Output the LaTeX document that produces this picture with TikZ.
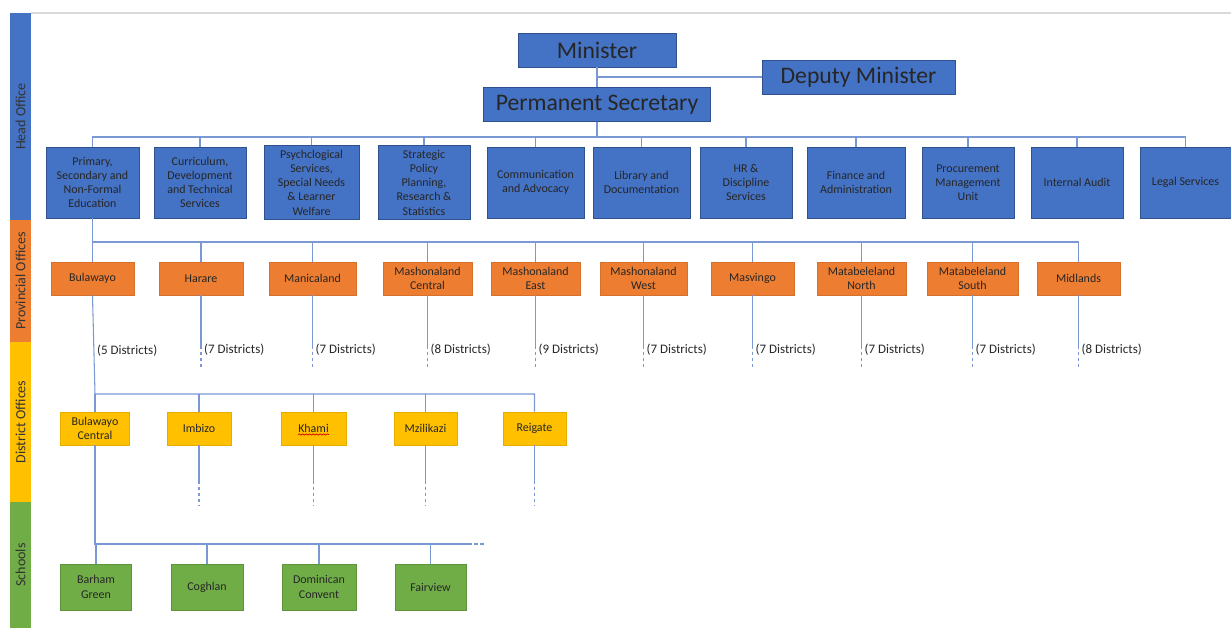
\documentclass[tikz,border=0pt]{standalone}
\usepackage{fontspec}
\setmainfont{Carlito}
\usepackage{xcolor}
\usetikzlibrary{decorations.pathmorphing}

\definecolor{officeblue}{HTML}{4472C4}
\definecolor{officeedge}{HTML}{2F528F}
\definecolor{provorange}{HTML}{ED7D31}
\definecolor{distyellow}{HTML}{FFC000}
\definecolor{schoolgreen}{HTML}{70AD47}
\definecolor{linkblue}{HTML}{7A98D4}

\begin{document}
\begin{tikzpicture}
    [
        x=0.02cm, y=-0.02cm,
        box/.style={inner sep=0pt, align=center, text=black!85, line width=0.5pt,
            font=\fontsize{6.8}{8.1}\selectfont},
        chief/.style={box, draw=officeedge, fill=officeblue, minimum height=34*0.02cm,
            font=\fontsize{13.5}{15}\selectfont},
        dept/.style={box, draw=officeedge, fill=officeblue},
        prov/.style={box, draw=provorange!90!black, fill=provorange, minimum height=33*0.02cm},
        dist/.style={box, draw=distyellow!90!black, fill=distyellow, minimum height=33*0.02cm},
        school/.style={box, draw=schoolgreen!85!black, fill=schoolgreen, minimum height=46*0.02cm},
        band/.style={rotate=90, text=black!80, font=\fontsize{8}{9}\selectfont},
        link/.style={linkblue, line width=0.6pt},
        tail/.style={link, dash pattern=on 2pt off 1.5pt},
        tally/.style={right, inner sep=1.5pt, text=black!85, font=\fontsize{7.4}{9}\selectfont}
    ]
    \useasboundingbox (0,0) rectangle (1231,628);

    % level bands down the left side
    \fill[officeblue] (10,13) rectangle (31,220);
    \fill[provorange] (10,220) rectangle (31,342);
    \fill[distyellow] (10,342) rectangle (31,502);
    \fill[schoolgreen] (10,502) rectangle (31,628);
    \draw[black!15, line width=0.8pt] (31,13) -- (1231,13);
    \node[band] (headband) at (20.5,116.5) {Head Office};
    \node[band] (provband) at (20.5,281) {Provincial Offices};
    \node[band] (distband) at (20.5,422) {District Offices};
    \node[band] (schoolband) at (20.5,565) {Schools};

    \coordinate (hqbus) at (0,137);
    \coordinate (provbus) at (0,242);
    \coordinate (distbus) at (0,394);
    \coordinate (schoolbus) at (0,544);

    \node[chief, minimum width=158*0.02cm] (minister) at (597,50) {Minister};
    \node[chief, minimum width=193*0.02cm] (deputy) at (858.5,77) {Deputy Minister};
    \node[chief, minimum width=227*0.02cm] (permsec) at (597,104.5) {Permanent Secretary};
    \draw[link] (minister.south) -- (permsec.north);
    \draw[link] (deputy.west) -- (deputy.west -| minister.south);

    \foreach \n/\x/\w/\h/\t in {
        1/92.5/93/71/{Primary,\\Secondary and\\Non-Formal\\Education},
        2/200/92/71/{Curriculum,\\Development\\and Technical\\Services},
        3/311.5/95/74/{Psychclogical\\Services,\\Special Needs\\\& Learner\\Welfare},
        4/424/92/74/{Strategic\\Policy\\Planning,\\Research \&\\Statistics},
        5/535.5/97/71/{Communication\\and Advocacy},
        6/641.5/97/71/{Library and\\Documentation},
        7/746/92/71/{HR \&\\Discipline\\Services},
        8/856/98/71/{Finance and\\Administration},
        9/968/92/71/{Procurement\\Management\\Unit},
        10/1077/92/71/{Internal Audit},
        11/1185.5/91/71/{Legal Services}}
        \node[dept, minimum width=\w*0.02cm, minimum height=\h*0.02cm] (hq\n) at (\x,182.5) {\t};

    \draw[link] (permsec.south) -- (permsec.south |- hqbus);
    \draw[link] (hq1.north) -- (hq1.north |- hqbus) -- (hq11.north |- hqbus) -- (hq11.north);
    \foreach \n in {2,...,10}
        \draw[link] (hq\n.north) -- (hq\n.north |- hqbus);

    \foreach \n/\x/\w/\t in {
        1/92.5/83/Bulawayo, 2/201/84/Harare, 3/312.5/87/Manicaland,
        4/427.5/89/{Mashonaland\\Central}, 5/535.5/89/{Mashonaland\\East},
        6/643.5/87/{Mashonaland\\West}, 7/752.5/83/Masvingo,
        8/861.5/89/{Matabeleland\\North}, 9/972.5/91/{Matabeleland\\South},
        10/1078.5/83/Midlands}
        \node[prov, minimum width=\w*0.02cm] (prov\n) at (\x,278.5) {\t};

    \draw[link] (hq1.south) -- (hq1.south |- provbus) -- (prov10.north |- provbus) -- (prov10.north);
    \foreach \n in {1,...,9}
        \draw[link] (prov\n.north) -- (prov\n.north |- provbus);

    \foreach \n/\k in {2/7, 3/7, 4/8, 5/9, 6/7, 7/7, 8/7, 9/7, 10/8}
    {
        \draw[link] (prov\n.south) -- ++(0,50) coordinate (cut\n);
        \draw[tail] (cut\n) -- ++(0,23) node[tally, pos=0.2] (tally\n) {(\k\ Districts)};
    }

    \foreach \n/\x/\w/\t in {
        1/95/69/{Bulawayo\\Central}, 2/199/64/Imbizo, 3/313.5/65/Khami,
        4/425.5/63/Mzilikazi, 5/534.5/63/Reigate}
        \node[dist, minimum width=\w*0.02cm] (dist\n) at (\x,428.5) {\t};

    \draw[link] (prov1.south) -- (dist1.north |- distbus) node[tally, pos=0.56] (tally1) {(5 Districts)}
        -- (dist5.north |- distbus) -- (dist5.north);
    \foreach \n in {1,...,4}
        \draw[link] (dist\n.north) -- (dist\n.north |- distbus);
    \foreach \n in {2,...,5}
    {
        \draw[link] (dist\n.south) -- ++(0,35) coordinate (stub\n);
        \draw[tail] (stub\n) -- ++(0,25);
    }
    \draw[red!80!black, line width=0.4pt, decorate,
        decoration={snake, amplitude=0.35pt, segment length=2pt}] (298,434.5) -- (329,434.5);

    \foreach \n/\x/\w/\t in {
        1/96/71/{Barham\\Green}, 2/207/72/Coghlan,
        3/319/74/{Dominican\\Convent}, 4/430.5/71/Fairview}
        \node[school, minimum width=\w*0.02cm] (school\n) at (\x,587) {\t};

    \draw[link] (dist1.south) -- (dist1.south |- schoolbus) -- ++(373,0) coordinate (more);
    \draw[tail] (more) -- ++(16,0);
    \foreach \n in {1,...,4}
        \draw[link] (school\n.north) -- (school\n.north |- schoolbus);
\end{tikzpicture}
\end{document}
